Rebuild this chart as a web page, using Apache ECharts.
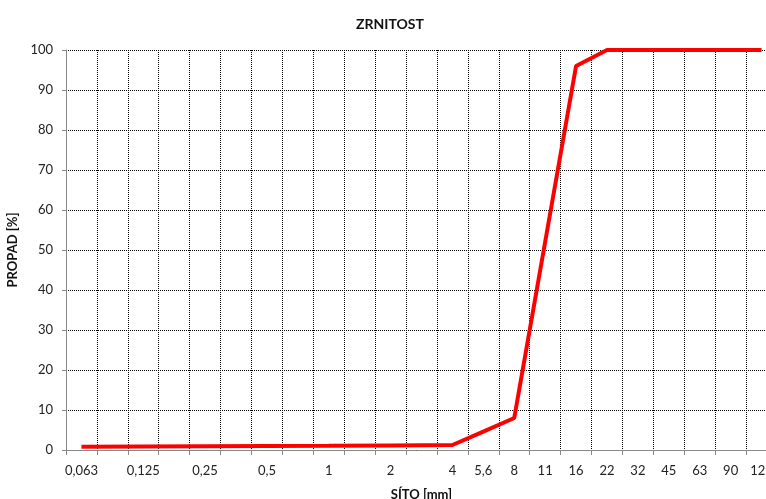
<!DOCTYPE html>
<html>
<head>
<meta charset="utf-8">
<script src="https://cdn.jsdelivr.net/npm/echarts@6/dist/echarts.min.js"></script>
<style>html,body{margin:0;padding:0;background:#fff;}#c{width:766px;height:499px;}</style>
</head>
<body>
<div id="c"></div>
<script>
const categories = ['0,063','','0,125','','0,25','','0,5','','1','','2','','4','5,6','8','11','16','22','32','45','63','90','125'];
const propad = [0.8,null,0.9,null,0.95,null,1.0,null,1.05,null,1.15,null,1.25,4.6,8,52,96,100,100,100,100,100,100];
const yTicks = {min:0, max:100, step:10};
const FONT = 'Lato, "Liberation Sans", sans-serif';

const chart = echarts.init(document.getElementById('c'), null, {renderer:'canvas'});
chart.setOption({
  animation:false,
  backgroundColor:'#fff',
  title:{text:'ZRNITOST', left:351, top:12, textStyle:{fontFamily:FONT, fontSize:14, fontWeight:'bold', color:'#111'}},
  grid:{left:66, top:50, width:711, height:400, containLabel:false, outerBoundsMode:'none'},
  xAxis:{
    type:'category', data:categories, boundaryGap:true,
    name:'SÍTO [mm]', nameLocation:'middle', nameGap:38,
    nameTextStyle:{fontFamily:FONT, fontSize:13, fontWeight:'bold', color:'#111'},
    axisLine:{lineStyle:{color:'#888', width:1}},
    axisTick:{show:true, inside:false, length:5, interval:0, lineStyle:{color:'#888'}},
    axisLabel:{interval:0, margin:14, fontFamily:FONT, fontSize:13, color:'#222', hideOverlap:false},
    splitLine:{show:true, interval:0, lineStyle:{color:'#000', type:[1,1], width:1}}
  },
  yAxis:{
    type:'value', min:yTicks.min, max:yTicks.max, interval:yTicks.step,
    name:'PROPAD [%]', nameLocation:'middle', nameGap:43, nameRotate:90,
    nameTextStyle:{fontFamily:FONT, fontSize:13, fontWeight:'bold', color:'#111'},
    axisLine:{show:true, lineStyle:{color:'#888', width:1}},
    axisTick:{show:true, inside:false, length:4, lineStyle:{color:'#888'}},
    axisLabel:{margin:13, fontFamily:FONT, fontSize:13, color:'#222'},
    splitLine:{show:true, lineStyle:{color:'#000', type:[1,1], width:1}}
  },
  series:[{
    type:'line', data:propad, connectNulls:true, showSymbol:false, symbol:'none',
    lineStyle:{color:'#ff0000', width:4}, itemStyle:{color:'#ff0000'}
  }]
});
</script>
</body>
</html>
